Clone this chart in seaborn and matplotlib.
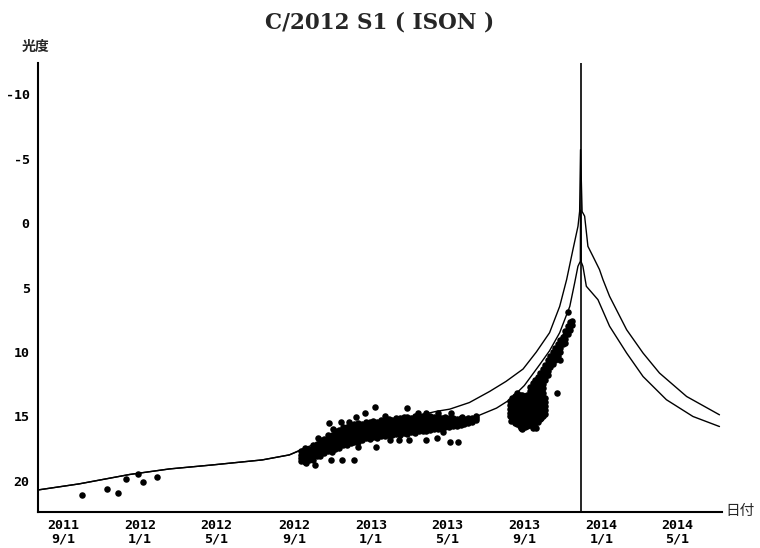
import pandas as pd
import matplotlib
matplotlib.use("Agg")
import matplotlib.pyplot as plt
import seaborn as sns

# Perihelion passage of C/2012 S1 (ISON); all times below are days from it
perihelion = pd.Timestamp("2013-11-28 18:00")

# Early (precovery) observations
precovery_t = [-789, -749, -732, -720, -701, -692, -671]
precovery_mag = [21.1, 20.6, 20.9, 19.85, 19.5, 20.05, 19.7]

# Nightly observations: one entry per night, a list of reported magnitudes
night_t = [
    -442, -436, -430, -424, -418, -412, -406, -400, -394, -388,
    -382, -376, -370, -364, -358, -352, -346, -340, -334, -328,
    -322, -316, -310, -304, -298, -292, -286, -280, -274, -268,
    -262, -256, -250, -244, -238, -232, -226, -220, -214, -208,
    -202, -196, -190, -184, -178, -172, -166,
    -112, -108, -104, -100, -96, -92, -88, -84, -80, -76,
    -72, -68, -64, -60, -56, -52, -48, -44, -40, -36,
    -32, -28, -24, -20, -16, -14,
]
night_mags = [
    [17.65, 17.95, 18.25, 18.45],
    [17.45, 17.75, 18.05, 18.3, 18.55],
    [17.5, 17.7, 18.0, 18.25, 18.4],
    [17.25, 17.55, 17.85, 18.1, 18.35],
    [17.15, 17.4, 17.7, 17.95, 18.1],
    [16.85, 17.15, 17.45, 17.75, 18.05],
    [16.75, 17.05, 17.3, 17.6, 17.85],
    [16.45, 16.8, 17.1, 17.35, 17.65],
    [16.4, 16.7, 16.95, 17.25, 17.5, 17.75],
    [16.15, 16.45, 16.8, 17.05, 17.3, 17.5],
    [16.05, 16.35, 16.6, 16.9, 17.2, 17.45],
    [15.85, 16.2, 16.5, 16.8, 17.05, 17.25],
    [15.85, 16.1, 16.4, 16.65, 16.95, 17.2],
    [15.65, 15.95, 16.3, 16.55, 16.8, 17.05],
    [15.6, 15.9, 16.2, 16.5, 16.75, 16.95],
    [15.5, 15.8, 16.1, 16.4, 16.65, 16.95],
    [15.55, 15.8, 16.05, 16.35, 16.6, 16.8],
    [15.4, 15.7, 16.0, 16.25, 16.5, 16.7],
    [15.45, 15.7, 15.95, 16.2, 16.45, 16.75],
    [15.35, 15.6, 15.9, 16.15, 16.4, 16.6],
    [15.4, 15.65, 15.85, 16.1, 16.35, 16.65],
    [15.25, 15.5, 15.8, 16.05, 16.3, 16.5],
    [15.3, 15.55, 15.8, 16.0, 16.25, 16.55],
    [15.2, 15.45, 15.75, 15.95, 16.2, 16.4],
    [15.25, 15.5, 15.7, 15.95, 16.25, 16.45],
    [15.1, 15.4, 15.65, 15.9, 16.15, 16.35],
    [15.15, 15.35, 15.6, 15.85, 16.1, 16.4],
    [15.05, 15.35, 15.6, 15.85, 16.05, 16.3],
    [15.05, 15.3, 15.55, 15.8, 16.05, 16.35],
    [15.1, 15.3, 15.55, 15.8, 16.0, 16.2],
    [15.0, 15.3, 15.5, 15.75, 16.0, 16.25],
    [15.05, 15.3, 15.5, 15.75, 15.95, 16.1],
    [15.0, 15.25, 15.5, 15.7, 15.9, 16.15],
    [15.05, 15.25, 15.5, 15.7, 15.95, 16.1],
    [15.0, 15.25, 15.45, 15.65, 15.85, 16.05],
    [15.05, 15.25, 15.45, 15.65, 15.9, 16.0],
    [15.0, 15.25, 15.45, 15.65, 15.8, 15.95],
    [15.1, 15.3, 15.5, 15.7, 15.95],
    [15.05, 15.3, 15.5, 15.65, 15.85],
    [15.15, 15.35, 15.5, 15.7, 15.8],
    [15.1, 15.35, 15.55, 15.75],
    [15.2, 15.4, 15.6, 15.75],
    [15.15, 15.4, 15.65],
    [15.2, 15.45, 15.6],
    [15.1, 15.35, 15.5],
    [15.1, 15.25, 15.4],
    [15.0, 15.15, 15.3],
    [13.8, 14.1, 14.4, 14.7, 15.0],
    [13.55, 13.85, 14.15, 14.45, 14.75, 15.05, 15.3],
    [13.4, 13.7, 14.0, 14.3, 14.6, 14.9, 15.2, 15.45],
    [13.35, 13.65, 13.95, 14.25, 14.55, 14.85, 15.15, 15.4, 15.6],
    [13.3, 13.6, 13.9, 14.2, 14.5, 14.8, 15.1, 15.4, 15.7],
    [13.35, 13.65, 13.95, 14.25, 14.55, 14.85, 15.15, 15.45, 15.75, 15.95],
    [13.4, 13.7, 14.0, 14.3, 14.6, 14.9, 15.2, 15.5, 15.8],
    [13.3, 13.6, 13.9, 14.2, 14.5, 14.8, 15.1, 15.4, 15.7],
    [12.7, 13.0, 13.3, 13.6, 13.9, 14.2, 14.5, 14.8, 15.1, 15.4, 15.65],
    [12.4, 12.7, 13.0, 13.3, 13.6, 13.9, 14.2, 14.5, 14.8, 15.1, 15.4, 15.7],
    [12.2, 12.5, 12.8, 13.1, 13.4, 13.7, 14.0, 14.3, 14.6, 14.9, 15.2, 15.5],
    [11.9, 12.2, 12.5, 12.8, 13.1, 13.4, 13.7, 14.0, 14.3, 14.6, 14.9, 15.2, 15.45],
    [11.6, 11.9, 12.2, 12.5, 12.8, 13.1, 13.4, 13.7, 14.0, 14.3, 14.6, 14.9, 15.2],
    [11.3, 11.6, 11.9, 12.2, 12.5, 12.8, 13.2, 13.5, 13.8, 14.1, 14.4, 14.7, 15.0],
    [11.0, 11.3, 11.6, 11.9, 12.2, 13.6, 13.9, 14.2, 14.5, 14.8],
    [10.6, 10.9, 11.2, 11.5, 11.8],
    [10.3, 10.6, 10.9, 11.2],
    [10.0, 10.3, 10.6, 10.9],
    [9.7, 10.0, 10.3, 10.6],
    [9.4, 9.7, 10.0, 10.3],
    [9.1, 9.4, 9.7, 10.0],
    [8.8, 9.1, 9.4],
    [8.4, 8.7, 9.0, 9.3],
    [8.0, 8.3, 8.6],
    [7.7, 8.0, 8.3],
    [7.6, 7.9],
]

# Scattered single reports away from the main band
single_t = [-398, -379, -355, -341, -325, -274, -244, -226, -205,
            -434, -421, -395, -377, -358, -353, -324, -302, -287, -271,
            -244, -228, -207, -194, -104, -94, -76, -62, -38, -32, -20,
            -416, -392, -366, -310, -258, -218, -188, -110, -100, -70]
single_mag = [15.5, 15.4, 15.05, 14.7, 14.25, 14.35, 14.75, 14.75, 14.75,
              18.6, 18.75, 18.35, 18.35, 18.35, 17.35, 17.35, 16.8, 16.8, 16.8,
              16.8, 16.7, 16.95, 16.95, 15.5, 15.9, 15.9, 15.1, 13.2, 10.65, 6.9,
              16.7, 15.95, 15.45, 14.95, 14.75, 16.2, 15.05, 15.35, 13.15, 15.9]

# Predicted light curves for two sets of parameters
pred_a_t = [-859, -794, -714, -651, -583, -504, -461, -437, -413, -382,
            -350, -318, -287, -255, -228, -207, -176, -144, -118, -91,
            -70, -49, -33, -22, -12, -4, -1.4, 0, 2.5, 6.5,
            11.7, 19.6, 30, 35.5, 46, 73, 99, 125, 168, 220]
pred_a_mag = [20.7, 20.23, 19.5, 19.07, 18.76, 18.37, 17.98, 17.45, 17.0, 16.5,
              16.0, 15.6, 15.2, 14.9, 14.6, 14.43, 13.92, 13.06, 12.28, 11.32,
              10.0, 8.5, 6.46, 4.38, 2.05, 0.24, -0.92, -5.7, -0.9, -0.54,
              1.8, 2.57, 3.6, 4.38, 5.68, 8.27, 10.08, 11.63, 13.45, 14.87]
pred_b_t = [-859, -794, -714, -651, -583, -504, -461, -437, -382, -318,
            -255, -207, -165, -133, -112, -89, -65, -49, -33, -17,
            -9.3, -4.1, -0.3, 0, 1, 3.8, 9.2, 27.6, 46, 73,
            99, 136, 178, 220]
pred_b_mag = [20.7, 20.23, 19.5, 19.07, 18.76, 18.37, 17.98, 17.5, 17.0, 16.4,
              15.8, 15.4, 15.0, 14.35, 13.7, 12.6, 11.0, 9.9, 8.5, 6.46,
              4.64, 3.35, 2.96, -1.0, 3.0, 3.35, 4.9, 5.94, 8.0, 10.08,
              11.9, 13.7, 15.0, 15.78]

tick_dates = ["2011-09-01", "2012-01-01", "2012-05-01", "2012-09-01", "2013-01-01",
              "2013-05-01", "2013-09-01", "2014-01-01", "2014-05-01"]
mag_ticks = [-10, -5, 0, 5, 10, 15, 20]


def to_date(days):
    return perihelion + pd.to_timedelta(pd.Series(days, dtype=float), unit="D")


obs_t = list(precovery_t) + list(single_t)
obs_mag = list(precovery_mag) + list(single_mag)
for t, mags in zip(night_t, night_mags):
    obs_t += [t] * len(mags)
    obs_mag += mags
obs = pd.DataFrame({"date": to_date(obs_t), "mag": obs_mag})
pred_a = pd.DataFrame({"date": to_date(pred_a_t), "mag": pred_a_mag})
pred_b = pd.DataFrame({"date": to_date(pred_b_t), "mag": pred_b_mag})

sns.set_style("white")
plt.rcParams["font.family"] = ["DejaVu Sans", "Noto Sans CJK JP"]

fig = plt.figure(figsize=(7.6, 5.48), dpi=100)
ax = fig.add_axes([0.05, 0.0657, 0.9, 0.8193])

sns.lineplot(data=pred_a, x="date", y="mag", ax=ax, color="black", lw=1.0,
             estimator=None, sort=False)
sns.lineplot(data=pred_b, x="date", y="mag", ax=ax, color="black", lw=1.0,
             estimator=None, sort=False)
ax.axvline(perihelion, color="black", lw=1.2)
sns.scatterplot(data=obs, x="date", y="mag", ax=ax, color="black", s=22,
                linewidth=0, zorder=3)

ax.set_xlim(perihelion - pd.Timedelta(days=859), perihelion + pd.Timedelta(days=224))
ax.set_ylim(22.41, -12.42)

ticks = pd.to_datetime(tick_dates)
ax.set_xticks(ticks)
ax.set_xticklabels([f"{d.year}\n{d.month}/{d.day}" for d in ticks],
                   family="DejaVu Sans Mono", weight="bold", fontsize=9.6,
                   linespacing=1.05)
ax.set_yticks(mag_ticks)
ax.set_yticklabels([str(v) for v in mag_ticks], family="DejaVu Sans Mono",
                   weight="bold", fontsize=9.6)
ax.set_xlabel("")
ax.set_ylabel("")

for side in ("top", "right"):
    ax.spines[side].set_visible(False)
for side in ("left", "bottom"):
    ax.spines[side].set_linewidth(1.5)
    ax.spines[side].set_color("black")
ax.tick_params(axis="y", direction="in", length=8.5, width=1.5, pad=6, colors="black")
ax.tick_params(axis="x", direction="in", length=5, width=1.5, pad=5, colors="black")

fig.text(0.5, 1 - 22 / 548, "C/2012 S1 ( ISON )", ha="center", va="center",
         family="DejaVu Serif", weight="bold", fontsize=15.5)
fig.text(36 / 760, 1 - 47 / 548, "光度", ha="center", va="center",
         family=["Noto Sans CJK JP", "DejaVu Sans"], weight="bold", fontsize=10)
fig.text(740 / 760, 1 - 511 / 548, "日付", ha="center", va="center",
         family=["Noto Sans CJK JP", "DejaVu Sans"], fontsize=10.5)

fig.savefig("out.png", dpi=100, facecolor="white")
